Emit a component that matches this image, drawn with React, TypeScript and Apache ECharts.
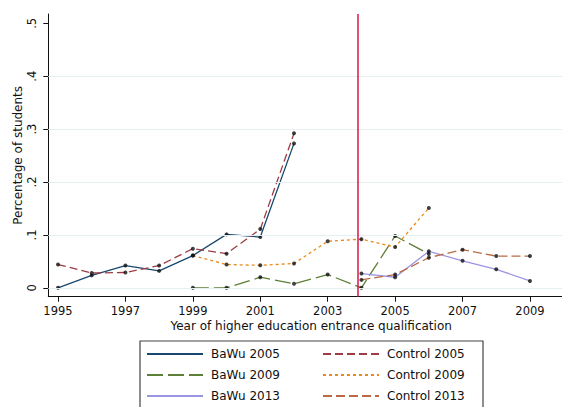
import { useEffect, useRef } from 'react';
import * as echarts from 'echarts';

const years = [1995, 1996, 1997, 1998, 1999, 2000, 2001, 2002, 2003, 2004, 2005, 2006, 2007, 2008, 2009];

// share of students per year, null = no observation
const bawu2005 = [0, 0.0235, 0.042, 0.032, 0.061, 0.101, 0.096, 0.273, null, null, null, null, null, null, null];
const control2005 = [0.044, 0.028, 0.029, 0.042, 0.074, 0.0645, 0.111, 0.292, null, null, null, null, null, null, null];
const bawu2009 = [null, null, null, null, 0, 0, 0.02, 0.0076, 0.025, 0, 0.098, 0.064, null, null, null];
const control2009 = [null, null, null, null, 0.061, 0.044, 0.0425, 0.046, 0.088, 0.092, 0.077, 0.151, null, null, null];
const bawu2013 = [null, null, null, null, null, null, null, null, null, 0.027, 0.02, 0.069, 0.051, 0.035, 0.013];
const control2013 = [null, null, null, null, null, null, null, null, null, 0.015, 0.025, 0.057, 0.072, 0.06, 0.06];

const xTicks = [1995, 1997, 1999, 2001, 2003, 2005, 2007, 2009];
const yTicks = [0, 0.1, 0.2, 0.3, 0.4, 0.5];
const gridValues = [0, 0.1, 0.2, 0.3, 0.4];
const cutoffYear = 2003.9;

const seriesDefs = [
  { name: 'BaWu 2005', values: bawu2005, color: '#1a476f', dash: 'solid' as any },
  { name: 'Control 2005', values: control2005, color: '#9c3c44', dash: [8, 4] },
  { name: 'BaWu 2009', values: bawu2009, color: '#5d7f36', dash: [16, 5] },
  { name: 'Control 2009', values: control2009, color: '#ea8a18', dash: [3, 3] },
  { name: 'BaWu 2013', values: bawu2013, color: '#9c96e2', dash: 'solid' as any },
  { name: 'Control 2013', values: control2013, color: '#b96a44', dash: [9, 4] },
];

const FONT = 'DejaVu Sans';

const legendBase = {
  orient: 'vertical',
  top: 348,
  itemWidth: 56,
  itemHeight: 12,
  itemGap: 9,
  padding: 0,
  itemStyle: { opacity: 0 },
  textStyle: { fontSize: 12, color: '#111', fontFamily: FONT, padding: [0, 0, 0, 3] },
};

export default function App() {
  const chartRef = useRef<HTMLDivElement>(null);

  useEffect(() => {
    document.body.style.margin = '0';
    if (!chartRef.current) return;
    const chart = echarts.init(chartRef.current, null, { renderer: 'svg' });

    const pairs = (values: (number | null)[]) =>
      years.map((y, i) => [y, values[i]] as [number, number | null]).filter(p => p[1] !== null);

    const lineSeries = seriesDefs.map(s => ({
      name: s.name,
      type: 'line',
      data: pairs(s.values),
      symbol: 'none',
      z: 3,
      lineStyle: { color: s.color, width: 1.3, type: s.dash },
      itemStyle: { color: s.color },
    }));

    const dotSeries = seriesDefs.map(s => ({
      name: s.name + ' points',
      type: 'scatter',
      data: pairs(s.values),
      symbol: 'circle',
      symbolSize: 4,
      z: 4,
      itemStyle: { color: '#111' },
    }));

    chart.setOption({
      animation: false,
      textStyle: { fontFamily: FONT },
      grid: { left: 48.3, top: 14, right: 0, bottom: 110.3 },
      legend: [
        { ...legendBase, data: ['BaWu 2005', 'BaWu 2009', 'BaWu 2013'], left: 146 },
        { ...legendBase, data: ['Control 2005', 'Control 2009', 'Control 2013'], left: 322 },
      ],
      graphic: [
        {
          type: 'rect',
          shape: { x: 140, y: 341, width: 343, height: 90 },
          style: { fill: 'none', stroke: '#444', lineWidth: 1.2 },
          silent: true,
        },
      ],
      xAxis: {
        type: 'value',
        min: 1994.712,
        max: 2009.95,
        name: 'Year of higher education entrance qualification',
        nameLocation: 'middle',
        nameGap: 23,
        nameMoveOverlap: false,
        nameTextStyle: { fontSize: 12, color: '#111', fontFamily: FONT, padding: [0, 0, 0, 12] },
        axisLine: { show: true, onZero: false, lineStyle: { color: '#111', width: 1 } },
        axisTick: { show: true, length: 5, customValues: xTicks, lineStyle: { color: '#111' } },
        axisLabel: {
          customValues: xTicks,
          fontSize: 11.5,
          color: '#111',
          margin: 8,
          fontFamily: FONT,
          formatter: (v: number) => String(v),
        },
        splitLine: { show: false },
      },
      yAxis: {
        type: 'value',
        min: -0.0168,
        max: 0.5176,
        name: 'Percentage of students',
        nameLocation: 'middle',
        nameGap: 24,
        nameMoveOverlap: false,
        nameTextStyle: { fontSize: 12, color: '#111', fontFamily: FONT },
        axisLine: { show: true, onZero: false, lineStyle: { color: '#111', width: 1 } },
        axisTick: { show: true, length: 5, customValues: yTicks, lineStyle: { color: '#111' } },
        axisLabel: {
          customValues: yTicks,
          rotate: 90,
          fontSize: 11.5,
          color: '#111',
          margin: 10,
          fontFamily: FONT,
          formatter: (v: number) => (v === 0 ? '0' : v.toFixed(1).replace(/^0/, '')),
        },
        splitLine: { show: false },
      },
      series: [
        {
          name: 'helper',
          type: 'line',
          data: [[1995, 0]],
          showSymbol: false,
          symbol: 'none',
          lineStyle: { opacity: 0 },
          z: 1,
          markLine: {
            silent: true,
            symbol: 'none',
            label: { show: false },
            lineStyle: { color: '#e5eef1', width: 1.2, type: 'solid' },
            data: gridValues.map(v => ({ yAxis: v })),
          },
        },
        ...lineSeries,
        ...dotSeries,
        {
          name: 'cutoff',
          type: 'line',
          data: [[1995, 0]],
          showSymbol: false,
          symbol: 'none',
          lineStyle: { opacity: 0 },
          z: 5,
          markLine: {
            silent: true,
            symbol: 'none',
            label: { show: false },
            lineStyle: { color: '#dc1446', width: 1.5, type: 'solid' },
            data: [{ xAxis: cutoffYear }],
          },
        },
      ],
    });

    return () => chart.dispose();
  }, []);

  return <div ref={chartRef} style={{ width: 562, height: 407 }} />;
}
